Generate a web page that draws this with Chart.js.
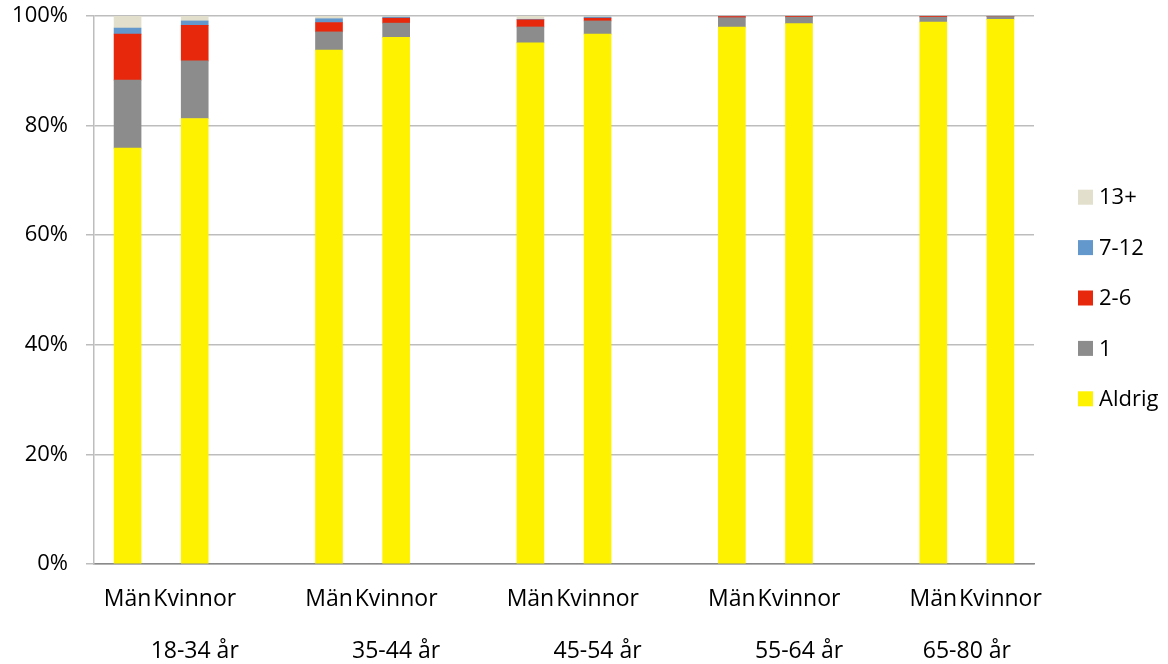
<!DOCTYPE html>
<html>
<head>
<meta charset="utf-8">
<script src="https://cdn.jsdelivr.net/npm/chart.js@4.4.0/dist/chart.umd.min.js"></script>
<style>
  html, body { margin: 0; padding: 0; background: #fff; }
  #wrap { width: 1168px; height: 664px; position: relative; }
</style>
</head>
<body>
<div id="wrap"><canvas id="chart"></canvas></div>
<script>
// Age groups and sexes along the x axis.
const groups = ['18-34 år', '35-44 år', '45-54 år', '55-64 år', '65-80 år'];
const sexes = ['Män', 'Kvinnor'];

// Share (%) per bar, order: Män, Kvinnor for each age group.
const aldrig = [75.9, 81.3, 93.8, 96.1, 95.1, 96.7, 98.0, 98.6, 98.9, 99.4];
const once = [12.4, 10.5, 3.3, 2.6, 2.9, 2.4, 1.7, 1.2, 0.9, 0.5];
const twoToSix = [8.4, 6.5, 1.7, 0.9, 1.3, 0.5, 0.2, 0.2, 0.2, 0.1];
const sevenToTwelve = [1.1, 0.8, 0.7, 0.2, 0.1, 0.2, 0.05, 0, 0, 0];
const thirteenPlus = [2.2, 0.9, 0.5, 0.2, 0.6, 0.2, 0.05, 0, 0, 0];

const seriesNames = ['Aldrig', '1', '2-6', '7-12', '13+'];
const seriesValues = [aldrig, once, twoToSix, sevenToTwelve, thirteenPlus];
const seriesColors = ['#fff200', '#8c8c8c', '#e8280c', '#6398cc', '#e2dfcc'];

const yTicks = [0, 20, 40, 60, 80, 100];

const FONT = '"Open Sans", "Liberation Sans", sans-serif';

// One slot per bar, with an empty slot between age groups.
const labels = [];
const slotOfBar = [];
const groupCenters = [];
groups.forEach((g, i) => {
  const start = labels.length;
  sexes.forEach((s) => {
    slotOfBar.push(labels.length);
    labels.push(s);
  });
  const last = i === groups.length - 1;
  if (!last) labels.push('');
  const count = last ? sexes.length : sexes.length + 1;
  groupCenters.push(start + (count - 1) / 2);
});

// Group labels live on a half-slot grid (edge to edge) so that each one
// sits in the middle of its own slots.
const groupLabels = [];
for (let k = 0; k <= labels.length * 2; k++) groupLabels.push('');
groupCenters.forEach((c, i) => { groupLabels[Math.round(2 * c + 1)] = groups[i]; });

function toSlots(values) {
  const out = labels.map(() => null);
  values.forEach((v, i) => { out[slotOfBar[i]] = v; });
  return out;
}

const datasets = seriesNames.map((name, i) => ({
  label: name,
  data: toSlots(seriesValues[i]),
  backgroundColor: seriesColors[i],
  borderWidth: 0,
  barThickness: 27
}));

// Legend on the right, top item is the last series.
const sideLegend = {
  id: 'sideLegend',
  afterDraw(chart) {
    const ctx = chart.ctx;
    const area = chart.chartArea;
    const items = chart.data.datasets.slice().reverse();
    const gap = 50.4;
    const midY = 298;
    const x0 = area.right + 44;
    ctx.save();
    ctx.font = '22px ' + FONT;
    ctx.textBaseline = 'middle';
    ctx.textAlign = 'left';
    items.forEach((ds, i) => {
      const y = midY + (i - (items.length - 1) / 2) * gap;
      ctx.fillStyle = ds.backgroundColor;
      ctx.fillRect(x0, y - 7.5, 15, 15);
      ctx.fillStyle = '#000';
      ctx.fillText(ds.label, x0 + 21, y + 1);
    });
    ctx.restore();
  }
};

new Chart(document.getElementById('chart'), {
  type: 'bar',
  data: { labels: labels, datasets: datasets },
  options: {
    responsive: true,
    maintainAspectRatio: false,
    animation: false,
    layout: { padding: { top: 16, right: 134, bottom: 0, left: 0 } },
    plugins: {
      legend: { display: false },
      tooltip: { enabled: false }
    },
    scales: {
      x: {
        type: 'category',
        stacked: true,
        grid: { display: false },
        border: { display: true, color: '#8a8a8a', width: 1.5 },
        ticks: {
          color: '#000',
          font: { family: FONT, size: 23 },
          maxRotation: 0,
          autoSkip: false,
          padding: 14
        },
        afterFit: (s) => { s.height = 50; s.paddingLeft = 0; s.paddingRight = 0; }
      },
      x2: {
        type: 'category',
        position: 'bottom',
        labels: groupLabels,
        offset: false,
        grid: { display: false },
        border: { display: false },
        ticks: {
          color: '#000',
          font: { family: FONT, size: 23 },
          maxRotation: 0,
          autoSkip: false,
          padding: 16
        },
        afterFit: (s) => { s.height = 50; s.paddingLeft = 0; s.paddingRight = 0; }
      },
      y: {
        stacked: true,
        min: 0,
        max: 100,
        afterBuildTicks: (s) => { s.ticks = yTicks.map((v) => ({ value: v })); },
        grid: { color: '#bdbdbd', lineWidth: 1.5, tickLength: 8 },
        border: { display: true, color: '#bdbdbd', width: 1.5 },
        ticks: {
          color: '#000',
          font: { family: FONT, size: 22 },
          padding: 18,
          callback: (v) => v + '%'
        },
        afterFit: (s) => { s.width = 94; s.paddingTop = 0; s.paddingBottom = 0; }
      }
    }
  },
  plugins: [sideLegend]
});
</script>
</body>
</html>
